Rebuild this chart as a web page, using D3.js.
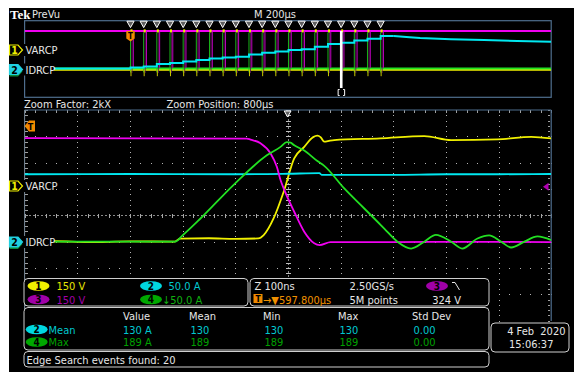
<!DOCTYPE html>
<html>
<head>
<meta charset="utf-8">
<script src="https://cdn.jsdelivr.net/npm/d3@7"></script>
<style>
  body { margin: 0; background: #fff; }
  svg { display: block; }
  text { font-family: "Liberation Sans Narrow", "DejaVu Sans Condensed", sans-serif; font-stretch: condensed; }
</style>
</head>
<body>
<script>
// ---- dati letti dallo schermo dell'oscilloscopio ----
// zoom: tempo in ns rispetto al centro, valori in V o A
var ch1Zoom = [[-500,-310],[-440,-308],[-380,-313],[-300,-309],[-215,-310],[-205,-293],[-150,-291],[-100,-294],[-56,-292],[-46,-273],[-27,-177],[-8,-26],[12,164],[31,230],[48,285],[56,293],[62,285],[69,259],[80,265],[88,268],[175,278],[259,291],[310,268],[398,272],[462,287],[500,278]];
var ch2Zoom = [[-500,128],[-300,128.5],[-100,128],[0,129],[60,130],[64,127],[200,127],[300,128],[400,128],[500,128.5]];
var ch3Zoom = [[-500,600],[-78,598],[-71,592],[-52,571],[-33,514],[-21,437],[-14,362],[-8,314],[12,181],[31,67],[50,1],[60,-9],[81,8],[200,8],[350,10],[500,8]];
var ch4Zoom = [[-500,0],[-214,0],[-201,11],[-166,44],[-103,108],[-40,164],[-14,180],[-2,189],[5,188],[12,183],[31,173],[56,153],[69,144],[107,101],[145,63],[183,25],[208,0],[234,-13],[259,0],[281,13],[310,0],[331,-13],[360,6],[382,12],[405,0],[424,-11],[449,0],[474,10],[500,3]];

// anteprima: tempo in µs dal trigger
var eventTimes = [0,50,100,150,200,250,300,350,400,450,500,550,600,650,700,750,800,850,900,950];
var ch2StepLevels = [5,11,24,29,37,45,52,58,62,73,83,89,97,101,114,128,135,146,156,170];
var ch2Tail = [[1000,170],[1060,164],[1100,160],[1217,153],[1343,149],[1469,144],[1597.8,140]];
var ch1Preview = [[-402.2,-310],[1597.8,-310]];
var ch3Preview = [[-402.2,600],[1597.8,600]];
var ch4Preview = [[-402.2,0],[1597.8,0]];
var zoomEvent = 800;

// impostazioni canali (unità per divisione, posizione in divisioni)
var chSetup = { 1: { perDiv: 150, pos: 1.07 }, 2: { perDiv: 50, pos: -1 }, 3: { perDiv: 150, pos: -1.07 }, 4: { perDiv: 50, pos: -1 } };
var chColor = { 1: '#f0f000', 2: '#00e8f0', 3: '#f000f0', 4: '#22e022' };

// readout
var chReadout = [{ ch: 1, text: '150 V' }, { ch: 3, text: '150 V' }, { ch: 2, text: '50.0 A' }, { ch: 4, text: '\u219350.0 A' }];
var measHeaders = ['Value', 'Mean', 'Min', 'Max', 'Std Dev'];
var measRows = [
  { ch: 2, name: 'Mean', values: ['130 A', '130', '130', '130', '0.00'] },
  { ch: 4, name: 'Max', values: ['189 A', '189', '189', '189', '0.00'] }
];

var W = 574, H = 372;
var lowX = d3.scaleLinear().domain([-500, 500]).range([24.6, 551.2]);
var lowY = d3.scaleLinear().domain([-4, 4]).range([320.7, 110]);
var upX = d3.scaleLinear().domain([597.8 - 1000, 597.8 + 1000]).range([24.6, 551.2]);
var upY = d3.scaleLinear().domain([-4, 4]).range([97.3, 20.7]);

function div(v, ch) { return v / chSetup[ch].perDiv + chSetup[ch].pos; }

var svg = d3.select('body').append('svg').attr('width', W).attr('height', H);
svg.append('rect').attr('width', W).attr('height', H).attr('fill', '#fff');
svg.append('rect').attr('x', 9).attr('y', 8).attr('width', W - 9).attr('height', H - 8).attr('fill', '#000');

var defs = svg.append('defs');
defs.append('clipPath').attr('id', 'clipLow').append('rect')
  .attr('x', 24.6).attr('y', 110).attr('width', 526.6).attr('height', 210.7);
defs.append('clipPath').attr('id', 'clipUp').append('rect')
  .attr('x', 24.6).attr('y', 20.7).attr('width', 526.6).attr('height', 76.6);

function txt(g, x, y, s, color, size, anchor) {
  return g.append('text').attr('x', x).attr('y', y).text(s)
    .attr('fill', color).attr('font-size', size || 11)
    .attr('text-anchor', anchor || 'start');
}

// ---- griglia del grafico zoom ----
var grid = svg.append('g').attr('shape-rendering', 'crispEdges');
var dots = [];
d3.range(-4, 5).forEach(function (i) {
  if (i === 0) return;
  d3.range(0, 41).forEach(function (j) { dots.push([lowX(i * 100), lowY(-4 + j / 5)]); });
});
d3.range(-3, 4).forEach(function (j) {
  if (j === 0) return;
  d3.range(0, 51).forEach(function (i) { dots.push([lowX(-500 + i * 20), lowY(j)]); });
});
grid.selectAll('rect.dot').data(dots).join('rect').attr('class', 'dot')
  .attr('x', function (d) { return Math.round(d[0]); }).attr('y', function (d) { return Math.round(d[1]); })
  .attr('width', 1).attr('height', 1).attr('fill', '#b4b4b4');

// assi centrali
var cx0 = Math.round(lowX(0)) + 0.5, cy0 = Math.round(lowY(0)) + 0.5;
grid.append('line').attr('x1', lowX(-500)).attr('x2', lowX(500)).attr('y1', cy0).attr('y2', cy0)
  .attr('stroke', '#8a8a8a').attr('stroke-dasharray', '2,2');
grid.append('line').attr('x1', cx0).attr('x2', cx0).attr('y1', lowY(-4)).attr('y2', lowY(4))
  .attr('stroke', '#8a8a8a').attr('stroke-dasharray', '2,2');
grid.selectAll('line.tx').data(d3.range(0, 51)).join('line').attr('class', 'tx')
  .attr('x1', function (i) { return Math.round(lowX(-500 + i * 20)) + 0.5; }).attr('x2', function (i) { return Math.round(lowX(-500 + i * 20)) + 0.5; })
  .attr('y1', cy0 - 2).attr('y2', cy0 + 2).attr('stroke', '#a8a8a8');
grid.selectAll('line.ty').data(d3.range(0, 41)).join('line').attr('class', 'ty')
  .attr('x1', cx0 - 2.5).attr('x2', cx0 + 2.5)
  .attr('y1', function (j) { return Math.round(lowY(-4 + j / 5)) + 0.5; }).attr('y2', function (j) { return Math.round(lowY(-4 + j / 5)) + 0.5; })
  .attr('stroke', '#c0c0c0');
// tacche sui bordi
grid.selectAll('line.lt').data(d3.range(0, 41)).join('line').attr('class', 'lt')
  .attr('x1', 24.6).attr('x2', 27.6)
  .attr('y1', function (j) { return Math.round(lowY(-4 + j / 5)) + 0.5; }).attr('y2', function (j) { return Math.round(lowY(-4 + j / 5)) + 0.5; })
  .attr('stroke', '#a0a0a0');
grid.selectAll('line.tt').data(d3.range(0, 51)).join('line').attr('class', 'tt')
  .attr('x1', function (i) { return Math.round(lowX(-500 + i * 20)) + 0.5; }).attr('x2', function (i) { return Math.round(lowX(-500 + i * 20)) + 0.5; })
  .attr('y1', 110).attr('y2', 113).attr('stroke', '#a0a0a0');
grid.selectAll('line.rt').data(d3.range(0, 41)).join('line').attr('class', 'rt')
  .attr('x1', 547.5).attr('x2', 549.5)
  .attr('y1', function (j) { return Math.round(lowY(-4 + j / 5)) + 0.5; }).attr('y2', function (j) { return Math.round(lowY(-4 + j / 5)) + 0.5; })
  .attr('stroke', '#a0a0a0');

// cornice
svg.append('line').attr('x1', 24.6).attr('x2', 551.2).attr('y1', 110).attr('y2', 110).attr('stroke', '#4f6e8e').attr('stroke-width', 1.2);
svg.append('line').attr('x1', 551.2).attr('x2', 551.2).attr('y1', 110).attr('y2', 321).attr('stroke', '#4f6e8e').attr('stroke-width', 1.2);
svg.append('line').attr('x1', 24.6).attr('x2', 24.6).attr('y1', 110).attr('y2', 321).attr('stroke', '#7a8a9a').attr('stroke-width', 1);
svg.append('rect').attr('x', 24.6).attr('y', 20.7).attr('width', 526.6).attr('height', 76.6)
  .attr('fill', 'none').attr('stroke', '#4f6e8e').attr('stroke-width', 1.2);

// ---- tracce zoom ----
function traceLine(xs, ys, ch, curve) {
  return d3.line().x(function (d) { return xs(d[0]); }).y(function (d) { return ys(div(d[1], ch)); })
    .curve(curve || d3.curveLinear);
}
var low = svg.append('g').attr('clip-path', 'url(#clipLow)');
[[1, ch1Zoom], [2, ch2Zoom], [3, ch3Zoom], [4, ch4Zoom]].forEach(function (t) {
  low.append('path').datum(t[1]).attr('d', traceLine(lowX, lowY, t[0], d3.curveMonotoneX))
    .attr('fill', 'none').attr('stroke', chColor[t[0]]).attr('stroke-width', 1.8);
});

// ---- tracce anteprima ----
var up = svg.append('g').attr('clip-path', 'url(#clipUp)');
up.append('path').datum(ch3Preview).attr('d', traceLine(upX, upY, 3))
  .attr('fill', 'none').attr('stroke', chColor[3]).attr('stroke-width', 2);
up.append('path').datum(ch1Preview).attr('d', traceLine(upX, upY, 1))
  .attr('fill', 'none').attr('stroke', chColor[1]).attr('stroke-width', 2).attr('transform', 'translate(0,1.2)');
up.append('path').datum(ch4Preview).attr('d', traceLine(upX, upY, 4))
  .attr('fill', 'none').attr('stroke', chColor[4]).attr('stroke-width', 2);

// eventi: impulsi per ogni evento trovato
var ev = up.append('g');
eventTimes.forEach(function (t) {
  var x = upX(t);
  ev.append('line').attr('x1', x).attr('x2', x).attr('y1', upY(div(189, 4))).attr('y2', upY(div(-20, 4)))
    .attr('stroke', '#1cc81c').attr('stroke-width', 0.9);
  ev.append('line').attr('x1', x + 1.5).attr('x2', x + 1.5).attr('y1', upY(div(600, 3))).attr('y2', upY(div(-60, 3)))
    .attr('stroke', '#5a1a50').attr('stroke-width', 0.9);
  ev.append('line').attr('x1', x + 2.8).attr('x2', x + 2.8).attr('y1', upY(div(600, 3))).attr('y2', upY(div(24, 3)))
    .attr('stroke', '#d800d8').attr('stroke-width', 0.9);
  ev.append('line').attr('x1', x + 0.5).attr('x2', x + 0.5).attr('y1', upY(div(-330, 1))).attr('y2', upY(div(-430, 1)))
    .attr('stroke', '#c8c800').attr('stroke-width', 1);
  ev.append('rect').attr('x', x).attr('y', upY(div(280, 1)) - 1.5).attr('width', 2).attr('height', 3).attr('fill', chColor[1]);
});

var stepPts = [[-402.2, 0]].concat(eventTimes.map(function (t, i) { return [t, ch2StepLevels[i]]; }), [[1000, 170]]);
up.append('path').datum(stepPts).attr('d', traceLine(upX, upY, 2, d3.curveStepAfter))
  .attr('fill', 'none').attr('stroke', chColor[2]).attr('stroke-width', 2);
up.append('path').datum(ch2Tail).attr('d', traceLine(upX, upY, 2))
  .attr('fill', 'none').attr('stroke', chColor[2]).attr('stroke-width', 2);

// marcatore della finestra zoom
var zx = upX(zoomEvent);
svg.append('rect').attr('x', zx - 1.2).attr('y', 31).attr('width', 2.6).attr('height', 57).attr('fill', '#fff');
svg.append('path').attr('d', 'M' + (zx - 1.5) + ',89.5h-1.5v6h1.5M' + (zx + 2) + ',89.5h1.5v6h-1.5')
  .attr('fill', 'none').attr('stroke', '#fff').attr('stroke-width', 1);

// triangoli eventi
svg.selectAll('path.evt').data(eventTimes).join('path').attr('class', 'evt')
  .attr('d', function (t) { var x = upX(t); return 'M' + (x - 3.6) + ',21.2L' + (x + 3.6) + ',21.2L' + x + ',27.6Z'; })
  .attr('fill', '#606060').attr('stroke', '#fff').attr('stroke-width', 1);

// trigger T nell'anteprima
var tx = upX(0);
svg.append('path').attr('d', 'M' + (tx - 4.2) + ',31H' + (tx + 4.2) + 'V38.5L' + tx + ',41.5L' + (tx - 4.2) + ',38.5Z').attr('fill', '#f08a00');
txt(svg, tx, 38.5, 'T', '#000', 8, 'middle').attr('font-weight', 'bold');

// ---- etichette canali ----
function chMarker(y, num, color, filled) {
  svg.append('path').attr('d', 'M9.5,' + (y - 5) + 'H18L22.5,' + y + 'L18,' + (y + 5) + 'H9.5Z')
    .attr('fill', filled ? color : '#000').attr('stroke', color).attr('stroke-width', 1.2);
  txt(svg, 14.5, y + 4, num, filled ? '#000' : color, 10.5, 'middle').attr('font-weight', 'bold');
}
function nameTag(y, s) {
  svg.append('rect').attr('x', 24).attr('y', y - 6).attr('width', 30).attr('height', 12).attr('fill', '#000');
  txt(svg, 25.5, y + 4, s, '#e6e6e6', 11);
}
[[50, 69.5], [186, 242]].forEach(function (p) {
  nameTag(p[0], 'VARCP');
  chMarker(p[0], '1', chColor[1], false);
  svg.append('path').attr('d', 'M9.5,' + (p[1] - 3) + 'H18L22.5,' + (p[1] + 2) + 'L18,' + (p[1] + 7) + 'H9.5Z').attr('fill', '#0a8a3a');
  nameTag(p[1], 'IDRCP');
  chMarker(p[1], '2', '#20d0e0', true);
});

// marcatori nel grafico zoom
svg.append('path').attr('d', 'M35,120.5H29L24.6,126L29,131.5H35Z').attr('fill', '#f08a00');
txt(svg, 30.5, 130, 'T', '#000', 9, 'middle').attr('font-weight', 'bold');
svg.append('path').attr('d', 'M284.2,111H291L287.6,117Z').attr('fill', '#606060').attr('stroke', '#fff');
svg.append('path').attr('d', 'M543,' + lowY(div(324, 3)) + 'L548.5,' + (lowY(div(324, 3)) - 4) + 'V' + (lowY(div(324, 3)) + 4) + 'Z').attr('fill', '#b000b0');

// ---- testi in alto ----
txt(svg, 10, 18.5, 'Tek', '#fff', 13).attr('font-weight', 'bold').style('font-family', '"Liberation Serif", serif');
txt(svg, 32, 18, 'PreVu', '#e6e6e6', 11);
txt(svg, 254, 18, 'M 200\u00b5s', '#e6e6e6', 11);
txt(svg, 24, 107.5, 'Zoom Factor: 2kX', '#e6e6e6', 11);
txt(svg, 166.5, 107.5, 'Zoom Position: 800\u00b5s', '#e6e6e6', 11);

// ---- readout ----
function box(x, y, w, h) {
  svg.append('rect').attr('x', x).attr('y', y).attr('width', w).attr('height', h).attr('rx', 4)
    .attr('fill', '#000').attr('stroke', '#cfcfcf').attr('stroke-width', 1);
}
var badgeFill = { 1: '#f0f000', 2: '#00d8e0', 3: '#a000a8', 4: '#00a800' };
var textCol = { 1: '#e6e600', 2: '#00c8d0', 3: '#a000a8', 4: '#10b010' };
function badge(cx, cy, ch) {
  svg.append('ellipse').attr('cx', cx).attr('cy', cy).attr('rx', 11).attr('ry', 4.8).attr('fill', badgeFill[ch]);
  txt(svg, cx, cy + 3.6, String(ch), '#000', 10, 'middle').attr('font-weight', 'bold');
}

box(24, 278.5, 224, 27.5);
box(250, 278.5, 239, 27.5);
box(24, 307.5, 465, 42.5);
box(24, 351.5, 465, 15.5);
box(491, 323, 78, 29);

chReadout.forEach(function (r, i) {
  var cx = i < 2 ? 38.5 : 151, cy = i % 2 === 0 ? 286 : 299.5;
  badge(cx, cy, r.ch);
  txt(svg, r.ch === 4 ? 162 : (i < 2 ? 56.5 : 168.5), cy + 4, r.text, textCol[r.ch], 11);
});

txt(svg, 254.5, 290, 'Z 100ns', '#e6e6e6', 11);
svg.append('rect').attr('x', 253.5).attr('y', 294).attr('width', 9).attr('height', 9).attr('fill', '#f08a00');
txt(svg, 258, 302, 'T', '#000', 8.5, 'middle').attr('font-weight', 'bold');
txt(svg, 263, 303.5, '\u2192\u25bc597.800\u00b5s', '#f09000', 11);
txt(svg, 349.5, 290, '2.50GS/s', '#e6e6e6', 11);
txt(svg, 349.5, 303.5, '5M points', '#e6e6e6', 11);
badge(437, 286, 3);
svg.append('path').attr('d', 'M452,282.5H455L459.5,290').attr('fill', 'none').attr('stroke', '#e6e6e6').attr('stroke-width', 1);
txt(svg, 461, 303.5, '324 V', '#e6e6e6', 11, 'end');

var colX = [123, 189, 263, 338, 412];
measHeaders.forEach(function (h, i) { txt(svg, colX[i], 320, h, '#e6e6e6', 11); });
measRows.forEach(function (r, k) {
  var cy = 329.5 + k * 12.5;
  badge(36.7, cy, r.ch);
  var col = r.ch === 2 ? '#00c8d0' : '#00a000';
  txt(svg, 48.5, cy + 4, r.name, col, 11);
  r.values.forEach(function (v, i) { txt(svg, colX[i] + (i === 0 ? 0 : 1.5), cy + 4, v, col, 11); });
});

txt(svg, 26.5, 363.5, 'Edge Search events found: 20', '#e6e6e6', 11);
txt(svg, 565.5, 335, '4 Feb  2020', '#e6e6e6', 11, 'end').style('white-space', 'pre');
txt(svg, 509, 348, '15:06:37', '#e6e6e6', 11);
</script>
</body>
</html>
